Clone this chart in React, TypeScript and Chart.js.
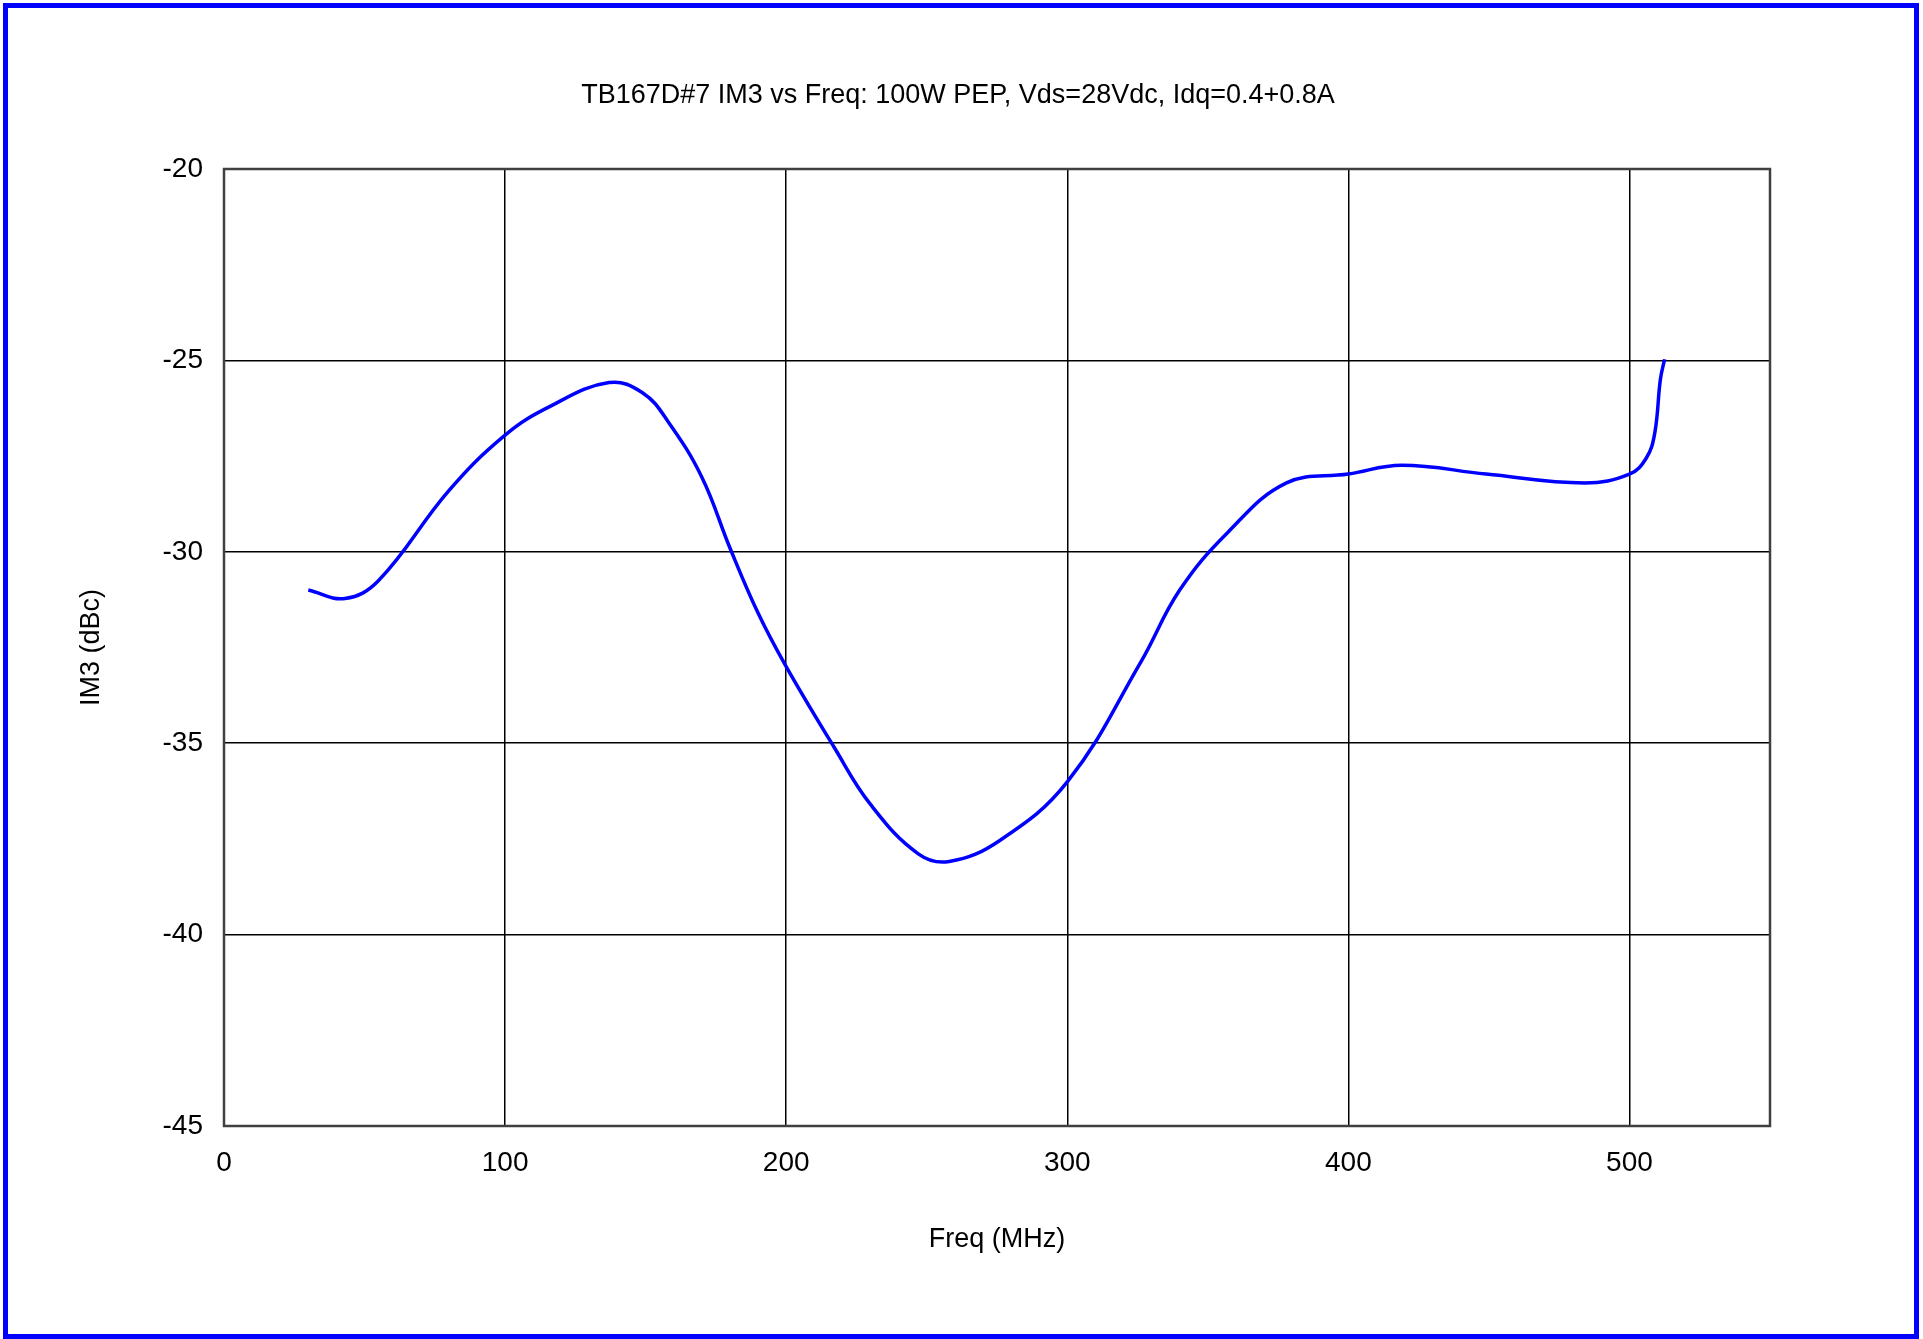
import React, { useEffect, useRef } from "react";
import { Chart, registerables } from "chart.js";

Chart.register(...registerables);

const TITLE = "TB167D#7 IM3 vs Freq: 100W PEP, Vds=28Vdc, Idq=0.4+0.8A";
const X_TITLE = "Freq (MHz)";
const Y_TITLE = "IM3 (dBc)";

const freqMHz = [
  30, 43, 55, 80, 100, 116, 137, 149, 158, 170, 180, 190, 200, 217, 230, 247,
  258, 276, 300, 326, 340, 357, 378, 400, 419, 449, 484, 500, 506, 509, 511, 512.5,
];
const im3dBc = [
  -31.0, -31.22, -30.75, -28.4, -26.95, -26.2, -25.58, -25.85, -26.6, -28.05,
  -29.9, -31.6, -33.0, -35.1, -36.6, -37.89, -38.09, -37.54, -36.01, -32.9,
  -31.0, -29.5, -28.2, -27.97, -27.74, -27.97, -28.2, -27.97, -27.55, -26.9, -25.5, -24.97,
];

const X_MIN = 0;
const X_MAX = 550;
const X_STEP = 100;
const Y_MIN = -45;
const Y_MAX = -20;
const Y_STEP = 5;

const FONT = "'Liberation Sans', Arial, sans-serif";

export default function App() {
  const ref = useRef<HTMLCanvasElement | null>(null);

  useEffect(() => {
    if (!ref.current) return;
    const points = freqMHz.map((f, i) => ({ x: f, y: im3dBc[i] }));

    const framePlugin = {
      id: "frameAndTitle",
      beforeDatasetsDraw(chart: any) {
        const { ctx, chartArea } = chart;
        ctx.save();
        ctx.strokeStyle = "#404040";
        ctx.lineWidth = 2.5;
        ctx.strokeRect(chartArea.left, chartArea.top, chartArea.right - chartArea.left, chartArea.bottom - chartArea.top);
        ctx.restore();
      },
      afterDraw(chart: any) {
        const { ctx } = chart;
        ctx.save();
        ctx.font = `27px ${FONT}`;
        ctx.fillStyle = "#000";
        ctx.textAlign = "center";
        ctx.textBaseline = "alphabetic";
        ctx.fillText(TITLE, 958, 103);
        ctx.strokeStyle = "#0000ff";
        ctx.lineWidth = 5;
        ctx.strokeRect(5.5, 5.5, 1911, 1331);
        ctx.restore();
      },
    };

    const chart = new Chart(ref.current, {
      type: "line",
      data: {
        datasets: [
          {
            data: points,
            borderColor: "#0000ff",
            borderWidth: 3.5,
            pointRadius: 0,
            fill: false,
            tension: 0.4,
          },
        ],
      },
      options: {
        responsive: false,
        animation: false,
        layout: { padding: { left: 0, top: 169, right: 153, bottom: 63 } },
        plugins: { legend: { display: false }, tooltip: { enabled: false }, title: { display: false } },
        scales: {
          x: {
            type: "linear",
            min: X_MIN,
            max: X_MAX,
            afterFit(scale: any) {
              scale.height = 150;
            },
            ticks: {
              stepSize: X_STEP,
              includeBounds: false,
              padding: 20,
              color: "#000",
              font: { family: FONT, size: 28 },
            },
            grid: { color: "#000", lineWidth: 1.5, drawTicks: false },
            border: { display: false },
            title: {
              display: true,
              text: X_TITLE,
              color: "#000",
              font: { family: FONT, size: 27 },
              padding: { top: 0, bottom: 20 },
            },
          },
          y: {
            type: "linear",
            min: Y_MIN,
            max: Y_MAX,
            afterFit(scale: any) {
              scale.width = 224;
            },
            ticks: {
              stepSize: Y_STEP,
              padding: 21,
              color: "#000",
              font: { family: FONT, size: 28 },
            },
            grid: { color: "#000", lineWidth: 1.5, drawTicks: false },
            border: { display: false },
            title: {
              display: true,
              text: Y_TITLE,
              color: "#000",
              font: { family: FONT, size: 27 },
              padding: { top: 75, bottom: 0 },
            },
          },
        },
      },
      plugins: [framePlugin],
    });
    return () => chart.destroy();
  }, []);

  return (
    <div style={{ position: "fixed", left: 0, top: 0, width: 1923, height: 1339, background: "#fff" }}>
      <canvas ref={ref} width={1923} height={1339} style={{ display: "block", width: 1923, height: 1339 }} />
    </div>
  );
}
